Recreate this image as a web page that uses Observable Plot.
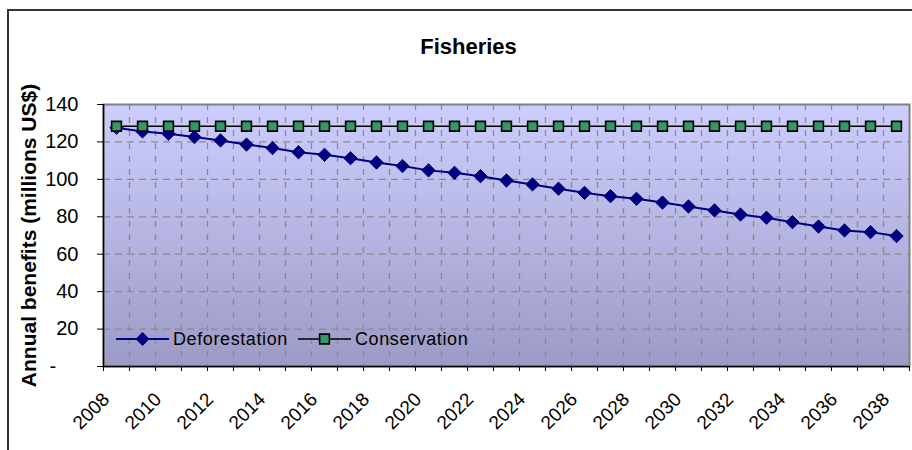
<!DOCTYPE html>
<html>
<head>
<meta charset="utf-8">
<script src="https://cdn.jsdelivr.net/npm/d3@7"></script>
<script src="https://cdn.jsdelivr.net/npm/@observablehq/plot@0.6"></script>
<style>
  html, body { margin: 0; padding: 0; background: #fff; overflow: hidden; }
  #chart { position: relative; width: 912px; height: 450px; }
  svg { font-family: "Liberation Sans", Arial, sans-serif; }
</style>
</head>
<body>
<div id="chart"></div>
<script>
// Annual fisheries benefits, 2008–2038 (millions US$)
const years = d3.range(2008, 2039);
const deforestation = [
  127.6, 125.6, 124.4, 122.6, 120.8, 118.6, 116.7, 114.5, 113.1, 111.3,
  109.0, 107.1, 104.8, 103.5, 101.7, 99.4, 97.3, 95.0, 92.8, 91.0,
  89.6, 87.6, 85.5, 83.4, 81.2, 79.5, 77.1, 74.8, 72.7, 71.8, 69.7
];
const conservation = years.map(() => 128.4);
const yTicks = [0, 20, 40, 60, 80, 100, 120, 140];
const xLabelYears = d3.range(2008, 2039, 2);
const seriesNames = ["Deforestation", "Conservation"];

const defData = years.map((year, i) => ({year, value: deforestation[i]}));
const conData = years.map((year, i) => ({year, value: conservation[i]}));

// category boundaries (ticks and vertical grid sit between the years)
const bounds = d3.range(years[0] - 0.5, years[years.length - 1] + 1, 1);
const innerBounds = bounds.slice(1, -1);

const NAVY = "#000080";
const GREEN = "#339966";
const FONT = "Liberation Sans, Arial, sans-serif";

const chart = Plot.plot({
  width: 912,
  height: 450,
  marginLeft: 103,
  marginRight: 3,
  marginTop: 104,
  marginBottom: 84,
  style: {fontFamily: FONT, color: "#000", background: "transparent"},
  x: {type: "linear", domain: [bounds[0], bounds[bounds.length - 1]]},
  y: {domain: [0, 140]},
  marks: [
    Plot.frame({fill: "url(#plotBg)", stroke: "none"}),
    Plot.gridY(yTicks.filter(d => d > 0 && d < 140), {stroke: "#8a8a8a", strokeOpacity: 1, strokeWidth: 1.3, strokeDasharray: "7,5"}),
    Plot.gridX(innerBounds, {stroke: "#8a8a8a", strokeOpacity: 1, strokeWidth: 1.3, strokeDasharray: "6,7"}),
    Plot.frame({stroke: "#808080", strokeWidth: 2, fill: "none"}),
    Plot.ruleX([bounds[0]], {stroke: "#000", strokeWidth: 1.5}),
    Plot.ruleY([0], {stroke: "#000", strokeWidth: 1.5}),
    // y ticks and their labels (zero shown as an accounting dash)
    Plot.axisY(yTicks, {tickSize: 6, tickFormat: () => "", stroke: "#000", label: null}),
    Plot.text(yTicks, {
      y: d => d, frameAnchor: "left", textAnchor: "end", dx: -25,
      text: d => d === 0 ? "-\u2007\u2007" : String(d),
      fontSize: 20, fill: "#000"
    }),
    // x ticks at category boundaries, year labels every other category
    Plot.axisX(bounds, {tickSize: 5, tickFormat: () => "", stroke: "#000", label: null}),
    Plot.text(xLabelYears, {
      x: d => d, text: d => String(d), frameAnchor: "bottom", rotate: -45, textAnchor: "end",
      dx: -6, dy: 34, fontSize: 19, fill: "#000"
    }),
    Plot.text(["Annual benefits (millions US$)"], {
      frameAnchor: "left", rotate: -90, textAnchor: "middle", dx: -74, fontSize: 21, fontWeight: "bold", fill: "#000"
    }),
    Plot.text(["Fisheries"], {
      frameAnchor: "top", textAnchor: "middle", dx: -38, dy: -66, fontSize: 22, fontWeight: "bold", fill: "#000"
    }),
    // Deforestation series
    Plot.line(defData, {x: "year", y: "value", stroke: NAVY, strokeWidth: 2}),
    Plot.dot(defData, {x: "year", y: "value", symbol: "diamond2", r: 6, fill: NAVY, stroke: NAVY, strokeWidth: 1}),
    // Conservation series
    Plot.line(conData, {x: "year", y: "value", stroke: "#000", strokeWidth: 1.6}),
    Plot.dot(conData, {x: "year", y: "value", symbol: "square", r: 5.5, fill: GREEN, stroke: "#000", strokeWidth: 1.6})
  ]
});

// plot-area gradient
const svg = d3.select(chart);
const defs = svg.insert("defs", ":first-child");
const grad = defs.append("linearGradient")
  .attr("id", "plotBg").attr("x1", 0).attr("y1", 0).attr("x2", 0).attr("y2", 1);
grad.append("stop").attr("offset", "0%").attr("stop-color", "#cecefe");
grad.append("stop").attr("offset", "100%").attr("stop-color", "#9c9bc6");

// chart-area border (left and top edges)
svg.append("path")
  .attr("d", "M8,452V10H914")
  .attr("fill", "none").attr("stroke", "#333").attr("stroke-width", 2);

// legend inside the plot area, bottom-left
const legend = svg.append("g").attr("transform", "translate(116,339)")
  .style("font-size", "18px").style("font-family", FONT);
const entries = [
  {name: seriesNames[0], x: 0, stroke: NAVY, sw: 2, symbol: d3.symbolDiamond2, size: 110, fill: NAVY, sstroke: NAVY, ssw: 1},
  {name: seriesNames[1], x: 182, stroke: "#000", sw: 1.6, symbol: d3.symbolSquare, size: 95, fill: GREEN, sstroke: "#000", ssw: 1.6}
];
for (const e of entries) {
  const g = legend.append("g").attr("transform", `translate(${e.x},0)`);
  g.append("line").attr("x1", 0).attr("x2", 53).attr("y1", 0).attr("y2", 0)
    .attr("stroke", e.stroke).attr("stroke-width", e.sw);
  g.append("path").attr("transform", "translate(26.5,0)")
    .attr("d", d3.symbol(e.symbol, e.size)())
    .attr("fill", e.fill).attr("stroke", e.sstroke).attr("stroke-width", e.ssw);
  g.append("text").attr("x", 57).attr("y", 0).attr("dy", "0.35em")
    .attr("text-anchor", "start")
    .attr("letter-spacing", "0.6px").attr("fill", "#000").text(e.name);
}

document.getElementById("chart").appendChild(chart);
</script>
</body>
</html>
